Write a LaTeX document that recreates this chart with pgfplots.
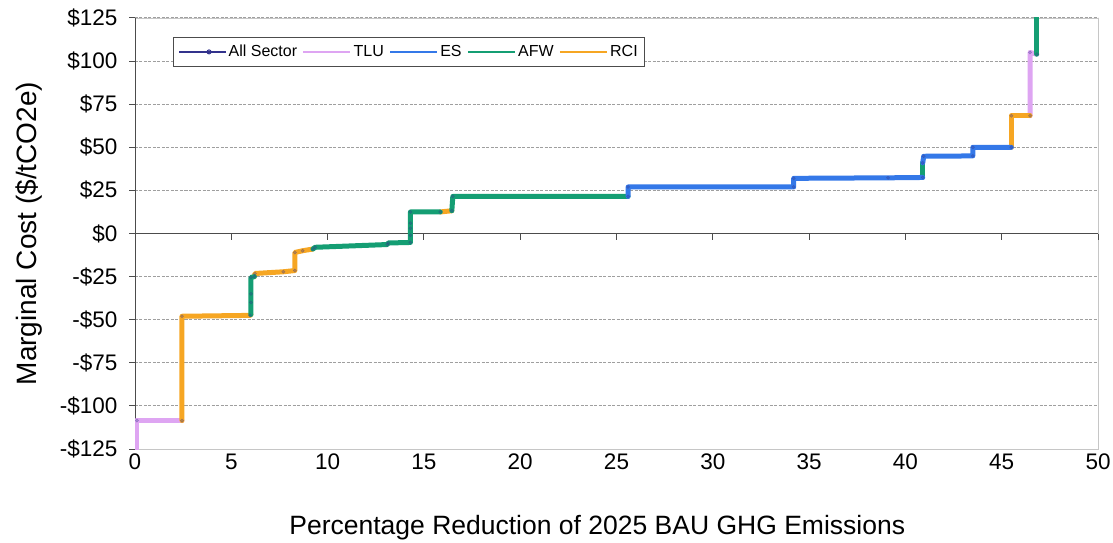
\documentclass[border=0pt]{standalone}
\usepackage{fontspec}
\setmainfont{Liberation Sans}
\usepackage{pgfplots}
\pgfplotsset{compat=1.18}
\definecolor{tlu}{RGB}{222,165,242}
\definecolor{es}{RGB}{52,120,232}
\definecolor{afw}{RGB}{20,158,115}
\definecolor{rci}{RGB}{246,166,35}
\definecolor{allsec}{RGB}{50,50,140}
\pgfplotsset{seg/.style={line width=5bp, line join=round, line cap=round, forget plot}}
\begin{document}
\begin{tikzpicture}
\begin{axis}[name=ax, scale only axis, width=963bp, height=431bp,
 xmin=0, xmax=50, ymin=-125, ymax=125, enlargelimits=false,
 axis line style={draw=gray!45, line width=0.8bp},
 xtick={0,5,...,50}, ytick={-125,-100,...,125},
 yticklabels={-\$125,-\$100,-\$75,-\$50,-\$25,\$0,\$25,\$50,\$75,\$100,\$125},
 major tick length=0pt,
 ymajorgrids, grid style={draw=gray!75, dash pattern=on 3bp off 1.5bp, line width=1bp},
 tick label style={font=\fontsize{22.5bp}{26bp}\selectfont},
 /pgf/number format/assume math mode=true,
 yticklabel style={xshift=-14bp},
 xticklabel style={yshift=-1bp},
 xlabel={Percentage Reduction of 2025 BAU GHG Emissions},
 ylabel={Marginal Cost (\$/tCO2e)},
 every axis x label/.style={at={(axis description cs:0.48,0)},anchor=north,yshift=-63bp,font=\fontsize{26.5bp}{31bp}\selectfont},
 every axis y label/.style={at={(axis description cs:-0.0924,0.5)},rotate=90,anchor=south,font=\fontsize{28bp}{32bp}\selectfont},
]
\end{axis}
\begin{axis}[scale only axis, width=963bp, height=431bp,
 xmin=0, xmax=50, ymin=-125, ymax=125, enlargelimits=false,
 axis x line=middle, axis y line=left,
 axis line style={-, draw=black!70, line width=1bp},
 xtick={0,5,...,50}, ytick={-125,-100,...,125}, xticklabels={}, yticklabels={},
 tick align=outside, major tick length=6bp, tick style={draw=black!70, line width=1bp},
 legend columns=5,
 legend style={at={(0.0395,0.956)}, anchor=north west, draw=black!70, line width=0.8bp, fill=white,
   font=\fontsize{16bp}{19bp}\selectfont, inner xsep=5bp, inner ysep=6bp,
   /tikz/every even column/.append style={column sep=3bp}},
 legend cell align=left,
 legend image code/.code={\path (0bp,0bp) -- (13bp,0bp); \draw[mark repeat=2, mark phase=2, #1] plot coordinates {(13bp,0bp) (30bp,0bp) (47bp,0bp)};},
]
\addlegendimage{allsec, line width=1.2bp, mark=o, mark size=2bp, mark options={solid, line width=1bp}}
\addlegendentry{All Sector}
\addlegendimage{tlu, line width=2.5bp}
\addlegendentry{TLU}
\addlegendimage{es, line width=2.5bp}
\addlegendentry{ES}
\addlegendimage{afw, line width=2.5bp}
\addlegendentry{AFW}
\addlegendimage{rci, line width=2.5bp}
\addlegendentry{RCI}
% All Sector (underlying curve)
\addplot[forget plot, allsec, line width=1bp] coordinates {
(0.1,-135) (0.1,-108.5) (2.44,-108.5) (2.44,-48) (5.97,-47.5) (6.02,-47) (6.02,-40) (6.02,-35) (6.02,-25.5)
(6.2,-25) (6.23,-23.2) (7.7,-22.2) (8.3,-21.5) (8.3,-11) (8.7,-10) (9.24,-9) (9.35,-8)
(13.1,-6.4) (13.15,-5.5) (14.3,-5.2) (14.3,-1) (14.3,3) (14.3,6) (14.3,12.5) (15.85,12.5) (16.45,13.2)
(16.5,21.5) (25.6,21.5) (25.6,27) (34.2,27) (34.2,32) (39.1,32.3) (40.9,32.5) (40.9,41) (40.95,44.8)
(43.5,45) (43.5,50) (45.5,50) (45.5,68.3) (46.47,68.3) (46.47,105) (46.83,104) (46.83,135)};
% TLU
\addplot[seg, tlu] coordinates {(0.1,-135) (0.1,-108.5) (2.44,-108.5)};
\addplot[seg, tlu] coordinates {(46.47,68.3) (46.47,105) (46.83,104)};
% RCI
\addplot[seg, rci] coordinates {(2.44,-108.5) (2.44,-48) (5.97,-47.5) (6.02,-47)};
\addplot[seg, rci] coordinates {(6.2,-25) (6.23,-23.2) (7.7,-22.2) (8.3,-21.5) (8.3,-11) (8.7,-10) (9.24,-9)};
\addplot[seg, rci] coordinates {(15.85,12.5) (16.45,13.2)};
\addplot[seg, rci] coordinates {(45.5,50) (45.5,68.3) (46.47,68.3)};
% AFW
\addplot[seg, afw] coordinates {(6.02,-47) (6.02,-25.5) (6.2,-25)};
\addplot[seg, afw] coordinates {(9.24,-9) (9.35,-8) (13.1,-6.4) (13.15,-5.5) (14.3,-5.2) (14.3,12.5) (15.85,12.5)};
\addplot[seg, afw] coordinates {(16.45,13.2) (16.5,21.5) (25.6,21.5)};
\addplot[seg, afw] coordinates {(40.9,32.5) (40.9,41)};
\addplot[seg, afw] coordinates {(46.83,104) (46.83,135)};
% ES
\addplot[seg, es] coordinates {(25.6,21.5) (25.6,27) (34.2,27) (34.2,32) (39.1,32.3) (40.9,32.5)};
\addplot[seg, es] coordinates {(40.9,41) (40.95,44.8) (43.5,45) (43.5,50) (45.5,50)};
% All Sector marks on top
\addplot[forget plot, only marks, mark=*, mark size=1.7bp, allsec, opacity=0.3] coordinates {
(0.1,-108.5) (2.44,-108.5) (2.44,-48) (5.97,-47.5) (6.02,-40) (6.02,-35) (6.02,-25.5)
(6.2,-25) (6.23,-23.2) (7.7,-22.2) (8.3,-21.5) (8.3,-11) (8.7,-10) (9.24,-9) (9.35,-8)
(13.1,-6.4) (13.15,-5.5) (14.3,-5.2) (14.3,-1) (14.3,3) (14.3,6) (14.3,12.5) (15.85,12.5) (16.45,13.2)
(16.5,21.5) (25.6,21.5) (25.6,27) (34.2,27) (34.2,32) (39.1,32.3) (40.9,32.5) (40.9,41) (40.95,44.8)
(43.5,45) (43.5,50) (45.5,50) (45.5,68.3) (46.47,68.3) (46.47,105) (46.83,104)};
\end{axis}
\pgfresetboundingbox
\path[use as bounding box] ([xshift=-135bp,yshift=-93bp]ax.south west) rectangle ([xshift=15bp,yshift=18bp]ax.north east);
\end{tikzpicture}
\end{document}
